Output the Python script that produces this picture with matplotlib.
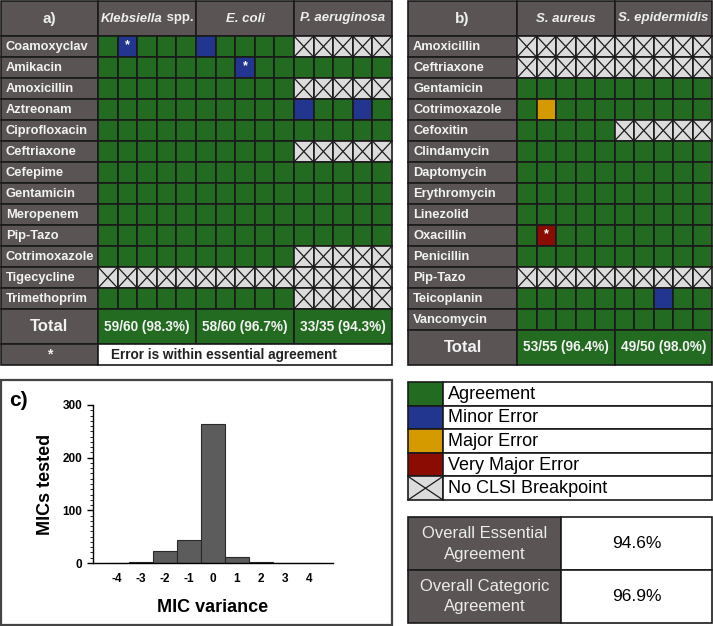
import matplotlib
matplotlib.use('Agg')
import matplotlib.pyplot as plt
from matplotlib.patches import Rectangle
from matplotlib.ticker import MultipleLocator

plt.rcParams['font.family'] = ['Liberation Sans', 'DejaVu Sans']
plt.rcParams['axes.unicode_minus'] = False

# kleuren
GREEN = '#246b22'
BLUE = '#22368f'
ORANGE = '#d49a00'
RED = '#8a0c02'
NA = '#dcdcdc'
DARK = '#5a5554'
LINE = '#1a1a1a'
colour = {'A': GREEN, 'm': BLUE, 'M': ORANGE, 'V': RED, 'X': NA}

# panel a data (A=agreement, m=minor, M=major, V=very major, X=no breakpoint)
species_a = ['Klebsiella spp.', 'E. coli', 'P. aeruginosa']
drugs_a = ['Coamoxyclav', 'Amikacin', 'Amoxicillin', 'Aztreonam', 'Ciprofloxacin',
           'Ceftriaxone', 'Cefepime', 'Gentamicin', 'Meropenem', 'Pip-Tazo',
           'Cotrimoxazole', 'Tigecycline', 'Trimethoprim']
results_a = ['AmAAA mAAAA XXXXX',
             'AAAAA AAmAA AAAAA',
             'AAAAA AAAAA XXXXX',
             'AAAAA AAAAA mAAmA',
             'AAAAA AAAAA AAAAA',
             'AAAAA AAAAA XXXXX',
             'AAAAA AAAAA AAAAA',
             'AAAAA AAAAA AAAAA',
             'AAAAA AAAAA AAAAA',
             'AAAAA AAAAA AAAAA',
             'AAAAA AAAAA XXXXX',
             'XXXXX XXXXX XXXXX',
             'AAAAA AAAAA XXXXX']
stars_a = [(0, 1), (1, 7)]
totals_a = ['59/60 (98.3%)', '58/60 (96.7%)', '33/35 (94.3%)']

# panel b data
species_b = ['S. aureus', 'S. epidermidis']
drugs_b = ['Amoxicillin', 'Ceftriaxone', 'Gentamicin', 'Cotrimoxazole', 'Cefoxitin',
           'Clindamycin', 'Daptomycin', 'Erythromycin', 'Linezolid', 'Oxacillin',
           'Penicillin', 'Pip-Tazo', 'Teicoplanin', 'Vancomycin']
results_b = ['XXXXX XXXXX',
             'XXXXX XXXXX',
             'AAAAA AAAAA',
             'AMAAA AAAAA',
             'AAAAA XXXXX',
             'AAAAA AAAAA',
             'AAAAA AAAAA',
             'AAAAA AAAAA',
             'AAAAA AAAAA',
             'AVAAA AAAAA',
             'AAAAA AAAAA',
             'XXXXX XXXXX',
             'AAAAA AAmAA',
             'AAAAA AAAAA']
stars_b = [(9, 1)]
totals_b = ['53/55 (96.4%)', '49/50 (98.0%)']

# panel c data
variance = [-4, -3, -2, -1, 0, 1, 2, 3, 4]
mic_counts = [0, 2, 22, 43, 264, 12, 1, 0, 0]

legend_labels = ['Agreement', 'Minor Error', 'Major Error', 'Very Major Error', 'No CLSI Breakpoint']
legend_codes = ['A', 'm', 'M', 'V', 'X']
overall_labels = ['Overall Essential\nAgreement', 'Overall Categoric\nAgreement']
overall_values = ['94.6%', '96.9%']

W, H = 713, 626
fig = plt.figure(figsize=(W / 100, H / 100), dpi=100)
canvas = fig.add_axes([0, 0, 1, 1])
canvas.set_xlim(0, W)
canvas.set_ylim(H, 0)
canvas.axis('off')
renderer = fig.canvas.get_renderer()


def cell(x, y, w, h, fc, lw=1.2):
    canvas.add_patch(Rectangle((x, y), w, h, facecolor=fc, edgecolor=LINE, lw=lw))
    if fc == NA:
        canvas.plot([x, x + w], [y, y + h], color=LINE, lw=0.9)
        canvas.plot([x, x + w], [y + h, y], color=LINE, lw=0.9)


def species_text(cx, cy, name):
    # genus cursief, "spp." rechtop
    if name.endswith(' spp.'):
        t1 = canvas.text(cx, cy, name[:-5], ha='left', va='center', color='#eeeeee',
                         fontsize=9.5, fontweight='bold', style='italic')
        t2 = canvas.text(cx, cy, '\u00a0spp.', ha='left', va='center', color='#eeeeee',
                         fontsize=9.5, fontweight='bold')
        w1 = t1.get_window_extent(renderer).width
        w2 = t2.get_window_extent(renderer).width
        start = cx - (w1 + w2) / 2
        t1.set_x(start)
        t2.set_x(start + w1)
    else:
        canvas.text(cx, cy, name, ha='center', va='center', color='#eeeeee',
                    fontsize=9.5, fontweight='bold', style='italic')


def draw_panel(x0, lab_w, cw, tag, species, drugs, results, stars, totals, footnote=None):
    y0, head_h, rh, tot_h = 1, 35, 21.0, 35
    n_cols = len(species) * 5
    gx = x0 + lab_w
    # header
    cell(x0, y0, lab_w, head_h, DARK)
    canvas.text(x0 + lab_w / 2, y0 + head_h / 2, tag, ha='center', va='center',
                color='#eeeeee', fontsize=11, fontweight='bold')
    for k, sp in enumerate(species):
        cell(gx + k * 5 * cw, y0, 5 * cw, head_h, DARK)
        species_text(gx + (k + 0.5) * 5 * cw, y0 + head_h / 2, sp)
    # rijen
    for i, (drug, res) in enumerate(zip(drugs, results)):
        y = y0 + head_h + i * rh
        cell(x0, y, lab_w, rh, DARK)
        canvas.text(x0 + 5, y + rh / 2 + 0.5, drug, ha='left', va='center',
                    color='#f2f2f2', fontsize=9.3, fontweight='bold')
        codes = res.replace(' ', '')
        for j in range(n_cols):
            cell(gx + j * cw, y, cw, rh, colour[codes[j]])
    for (i, j) in stars:
        canvas.text(gx + (j + 0.5) * cw, y0 + head_h + i * rh + rh * 0.42, '*',
                    ha='center', va='center', color='white', fontsize=9, fontweight='bold')
    # totaal
    yt = y0 + head_h + len(drugs) * rh
    cell(x0, yt, lab_w, tot_h, DARK)
    canvas.text(x0 + lab_w / 2, yt + tot_h / 2, 'Total', ha='center', va='center',
                color='#f2f2f2', fontsize=12, fontweight='bold')
    for k, tot in enumerate(totals):
        cell(gx + k * 5 * cw, yt, 5 * cw, tot_h, GREEN)
        canvas.text(gx + (k + 0.5) * 5 * cw, yt + tot_h / 2, tot, ha='center', va='center',
                    color='#f2f2f2', fontsize=9.8, fontweight='bold')
    if footnote:
        yf = yt + tot_h
        cell(x0, yf, lab_w, 21, DARK)
        canvas.text(x0 + lab_w / 2, yf + 10.5, '*', ha='center', va='center',
                    color='#f2f2f2', fontsize=10, fontweight='bold')
        cell(gx, yf, n_cols * cw, 21, 'white')
        canvas.text(gx + n_cols * cw * 0.43, yf + 10.5, footnote, ha='center', va='center',
                    color='#222222', fontsize=9.8, fontweight='bold')


draw_panel(1, 97, 19.6, 'a)', species_a, drugs_a, results_a, stars_a, totals_a,
           footnote='Error is within essential agreement')
draw_panel(408, 109, 19.5, 'b)', species_b, drugs_b, results_b, stars_b, totals_b)

# legenda
ly, lh = 382, 23.6
for i, (lab, code) in enumerate(zip(legend_labels, legend_codes)):
    y = ly + i * lh
    cell(408, y, 35, lh, colour[code])
    cell(443, y, 269, lh, 'white')
    canvas.text(448, y + lh / 2 + 0.5, lab, ha='left', va='center', color='black', fontsize=13)

# overall agreement tabel
oy, oh = 517, 53
for i, (lab, val) in enumerate(zip(overall_labels, overall_values)):
    y = oy + i * oh
    cell(408, y, 153, oh, DARK)
    cell(561, y, 151, oh, 'white')
    canvas.text(484.5, y + oh / 2, lab, ha='center', va='center', color='#ececec',
                fontsize=12, linespacing=1.5)
    canvas.text(636.5, y + oh / 2, val, ha='center', va='center', color='black', fontsize=12.5)

# panel c kader
canvas.add_patch(Rectangle((1, 380), 391, 245, facecolor='none', edgecolor='#444444', lw=1.6))
canvas.text(18, 401, 'c)', ha='center', va='center', fontsize=15, fontweight='bold')

ax = fig.add_axes([93 / W, 1 - 563 / H, 240 / W, 158 / H])
ax.set_facecolor('none')
ax.bar(variance, mic_counts, width=1.0, color='#5c5c5c', edgecolor='#2a2a2a', lw=0.8)
ax.set_xlim(-5, 5)
ax.set_ylim(0, 300)
ax.set_xticks(variance)
ax.set_yticks([0, 100, 200, 300])
ax.yaxis.set_minor_locator(MultipleLocator(10))
ax.tick_params(axis='x', length=0, pad=7, labelsize=8.5)
ax.tick_params(axis='y', length=4, width=1, labelsize=8.5)
ax.tick_params(axis='y', which='minor', length=2, width=0.6)
for lab in ax.get_xticklabels() + ax.get_yticklabels():
    lab.set_fontweight('bold')
for s in ['top', 'right']:
    ax.spines[s].set_visible(False)
ax.spines['left'].set_linewidth(1.0)
ax.spines['bottom'].set_linewidth(1.0)
ax.set_ylabel('MICs tested', fontsize=13, fontweight='bold', labelpad=6)
ax.set_xlabel('MIC variance', fontsize=13, fontweight='bold', labelpad=10)

fig.savefig('out.png', dpi=100)
